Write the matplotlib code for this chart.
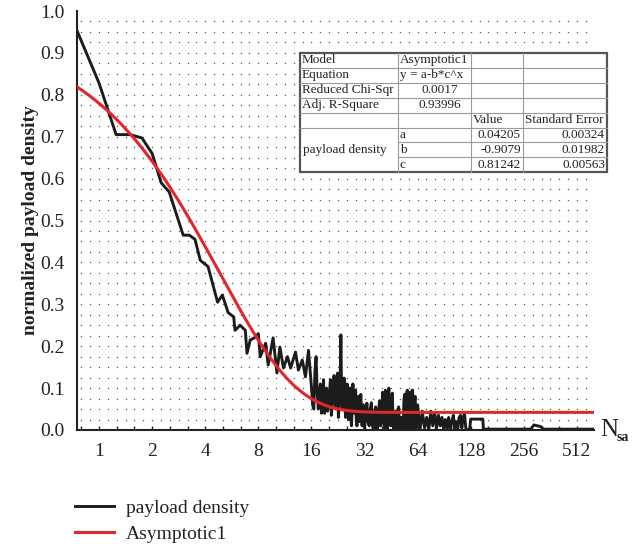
import numpy as np
import matplotlib
matplotlib.use('Agg')
import matplotlib.pyplot as plt
from matplotlib.patches import Rectangle

plt.rcParams['font.family'] = ['Liberation Serif', 'DejaVu Serif']

n_sa = [0.75, 1.0, 1.25, 1.5, 1.75, 2.0, 2.25, 2.5, 3.0, 3.25, 3.5, 3.75, 4.15, 4.7,
        5.0, 5.4, 5.8, 5.9, 6.3, 6.75, 6.9, 7.2, 7.6, 8.0, 8.2, 8.8, 9.1, 9.7, 10.2,
        10.6, 11.1, 11.7, 12.2, 13.0, 13.5, 14.2, 14.8, 15.4,
        16.0, 16.25, 16.5, 16.75, 17.0, 17.25, 17.5, 17.75, 18.0, 18.25, 18.5, 18.75,
        19.0, 19.25, 19.5, 19.75, 20.0, 20.25, 20.5, 20.75, 21.0, 21.25, 21.5, 21.75,
        22.0, 22.25, 22.5, 22.75, 23.0, 23.25, 23.5, 23.75, 24.0, 24.25, 24.5, 24.75,
        25.0, 25.25, 25.5, 25.75, 26.0, 26.25, 26.5, 26.75, 27.0, 27.25, 27.5, 27.75,
        28.0, 28.25, 28.5, 28.75, 29.0, 29.25, 29.5, 29.75, 30.0, 30.25, 30.5, 30.75,
        31.0, 31.25, 31.5, 31.75, 32.0,
        32.5, 33, 33.5, 34, 34.5, 35, 35.5, 36, 36.5, 37, 37.5, 38, 38.5, 39, 39.5,
        40, 40.5, 41, 41.5, 42, 42.5, 43, 43.5, 44, 44.5, 45, 45.5, 46, 46.5, 47,
        47.5, 48, 48.5, 49, 49.5, 50, 50.5, 51, 51.5, 52, 52.5, 53, 53.5, 54, 54.5,
        55, 55.5, 56, 56.5, 57, 57.5, 58, 58.5, 59, 59.5, 60, 60.5, 61, 61.5, 62,
        62.5, 63, 63.5, 64,
        66, 68, 70, 72, 74, 76, 78, 80, 82, 84, 86, 88, 90, 92, 94, 96, 98, 100, 102,
        104, 106, 108, 110, 112, 114, 116, 118, 120, 122, 124, 126, 128,
        150, 151, 280, 292, 320, 330, 640]
density = [0.953, 0.828, 0.705, 0.705, 0.697, 0.66, 0.59, 0.568, 0.465, 0.465, 0.455,
           0.405, 0.39, 0.305, 0.322, 0.28, 0.27, 0.238, 0.25, 0.238, 0.183, 0.215,
           0.22, 0.23, 0.175, 0.207, 0.155, 0.22, 0.136, 0.198, 0.148, 0.175, 0.148,
           0.186, 0.143, 0.167, 0.127, 0.19,
           0.103, 0.06, 0.05, 0.14, 0.175, 0.09, 0.05, 0.09, 0.11, 0.04, 0.06, 0.12,
           0.04, 0.07, 0.10, 0.045, 0.07, 0.09, 0.12, 0.035, 0.06, 0.10, 0.13, 0.07,
           0.05, 0.11, 0.136, 0.03, 0.06, 0.10, 0.227, 0.07, 0.048, 0.09, 0.124, 0.06,
           0.03, 0.08, 0.11, 0.04, 0.025, 0.07, 0.10, 0.03, 0.01, 0.06, 0.11, 0.05,
           0.04, 0.08, 0.095, 0.02, 0.01, 0.05, 0.08, 0.03, 0.02, 0.07, 0.085, 0.04,
           0.01, 0.04, 0.06, 0.02, 0.005,
           0.03, 0.064, 0.02, 0.01, 0.05, 0.065, 0.01, 0.0, 0.04, 0.055, 0.0, 0.005,
           0.05, 0.07, 0.01, 0.02, 0.09, 0.06, 0.005, 0.095, 0.03, 0.0, 0.08, 0.10,
           0.02, 0.01, 0.07, 0.088, 0.01, 0.0, 0.04, 0.045, 0.0, 0.005, 0.05, 0.055,
           0.01, 0.0, 0.03, 0.03, 0.0, 0.0, 0.07, 0.085, 0.0, 0.005, 0.09, 0.095, 0.01,
           0.0, 0.08, 0.09, 0.0, 0.01, 0.095, 0.095, 0.005, 0.0, 0.07, 0.08, 0.01,
           0.005, 0.05, 0.06,
           0.0, 0.045, 0.005, 0.03, 0.0, 0.045, 0.01, 0.04, 0.005, 0.035, 0.01, 0.03,
           0.0, 0.025, 0.005, 0.03, 0.0, 0.02, 0.035, 0.005, 0.02, 0.0, 0.03, 0.035,
           0.005, 0.03, 0.04, 0.005, 0.0, 0.0, 0.0, 0.026,
           0.026, 0.002, 0.002, 0.012, 0.008, 0.002, 0.002]

# fit result shown in the table (Asymptotic1: y = a - b*c^x)
fit_a, fit_b, fit_c = 0.04205, -0.9079, 0.81242

table_rows = [
    ["Model", "Asymptotic1", "", ""],
    ["Equation", "y = a-b*c^x", "", ""],
    ["Reduced Chi-Sqr", "0.0017", "", ""],
    ["Adj. R-Square", "0.93996", "", ""],
    ["", "", "Value", "Standard Error"],
    ["payload density", "a", "0.04205", "0.00324"],
    ["", "b", "-0.9079", "0.01982"],
    ["", "c", "0.81242", "0.00563"],
]

x_ticks = [1, 2, 4, 8, 16, 32, 64, 128, 256, 512]
y_ticks = [0.0, 0.1, 0.2, 0.3, 0.4, 0.5, 0.6, 0.7, 0.8, 0.9, 1.0]

W, H = 644, 548
fig = plt.figure(figsize=(W / 100, H / 100), dpi=100)
ax = fig.add_axes([77 / W, (H - 430) / H, (594 - 77) / W, (430 - 11) / H])

xmin, xmax = 0.75, 640
ax.set_xscale('log', base=2)
ax.set_xlim(xmin, xmax)
ax.set_ylim(0, 1.0)

# dotted background grid
gx = 2.0 ** (np.arange(-12, 60) / 6)
gx = gx[(gx > xmin * 1.02) & (gx < xmax * 0.99)]
gy = np.arange(0.025, 1.0, 0.025)
GX, GY = np.meshgrid(gx, gy)
ax.plot(GX.ravel(), GY.ravel(), ls='none', marker='s', ms=0.9, mew=0,
        color='#555555', zorder=0)

ax.plot(n_sa, density, color='#1c1c1c', lw=2.1, label='payload density', zorder=2)
xf = np.geomspace(xmin, xmax, 400)
ax.plot(xf, fit_a - fit_b * fit_c ** xf, color='#e3262b', lw=2.2,
        label='Asymptotic1', zorder=3)

for s in ['top', 'right']:
    ax.spines[s].set_visible(False)
for s in ['left', 'bottom']:
    ax.spines[s].set_linewidth(1.5)
    ax.spines[s].set_color('#222222')

ax.set_xticks(x_ticks)
ax.set_xticklabels([str(t) for t in x_ticks])
ax.xaxis.set_minor_locator(matplotlib.ticker.FixedLocator(2.0 ** (np.arange(-3, 29) / 3)))
ax.xaxis.set_minor_formatter(matplotlib.ticker.NullFormatter())
ax.tick_params(axis='x', which='both', direction='in', length=3, width=1,
               colors='#222222', labelsize=14, pad=9)
ax.set_yticks(y_ticks)
ax.set_yticklabels(['%.1f' % t for t in y_ticks])
ax.tick_params(axis='y', length=0, labelsize=14, colors='#222222', pad=9)

ax.set_ylabel('normalized payload density', fontsize=14, fontweight='bold',
              color='#222222', labelpad=1)

ax.legend(loc='upper left', bbox_to_anchor=(75 / W, (H - 499) / H),
          bbox_transform=fig.transFigure, frameon=False, fontsize=14,
          handlelength=2.0, handletextpad=0.6, labelspacing=0.45,
          borderpad=0, borderaxespad=0, labelcolor='#222222')

# overlay in pixel coords for the axis name and the fit table
ov = fig.add_axes([0, 0, 1, 1], zorder=5)
ov.set_xlim(0, W)
ov.set_ylim(H, 0)
ov.axis('off')
ov.patch.set_alpha(0)

ov.text(600, 436, 'N', fontsize=18, color='#222222', ha='left', va='baseline')
ov.text(617, 441, 'sa', fontsize=10, fontweight='bold', color='#222222',
        ha='left', va='baseline')

cols = [300, 398, 471, 523, 607]
top, rh = 53, 14.9
rows = [top + rh * k for k in range(9)]
ov.add_patch(Rectangle((cols[0], rows[0]), cols[-1] - cols[0], rows[-1] - rows[0],
                       facecolor='white', edgecolor='#555555', lw=1.6, zorder=1))
for k in range(1, 8):
    x0 = cols[1] if k >= 6 else cols[0]
    ov.plot([x0, cols[-1]], [rows[k], rows[k]], color='#9a9a9a', lw=0.8, zorder=2)
for c in cols[1:-1]:
    ov.plot([c, c], [rows[0], rows[-1]], color='#9a9a9a', lw=0.8, zorder=2)

fs = 9.5
for i, row in enumerate(table_rows):
    yc = rows[i] + rh / 2
    for j, txt in enumerate(row):
        if not txt:
            continue
        if j == 0 and i == 5:
            ov.text(cols[0] + 3, rows[5] + 1.5 * rh, txt, fontsize=fs, color='#222222',
                    ha='left', va='center', zorder=3)
        elif j == 1 and i in (2, 3):
            ov.text(440, yc, txt, fontsize=fs, color='#222222', ha='center',
                    va='center', zorder=3)
        elif j >= 2 and i >= 5:
            ov.text(cols[j + 1] - 2, yc, txt, fontsize=fs, color='#222222',
                    ha='right', va='center', zorder=3)
        else:
            ov.text(cols[j] + 2, yc, txt, fontsize=fs, color='#222222', ha='left',
                    va='center', zorder=3)

fig.savefig('out.png', dpi=100)
